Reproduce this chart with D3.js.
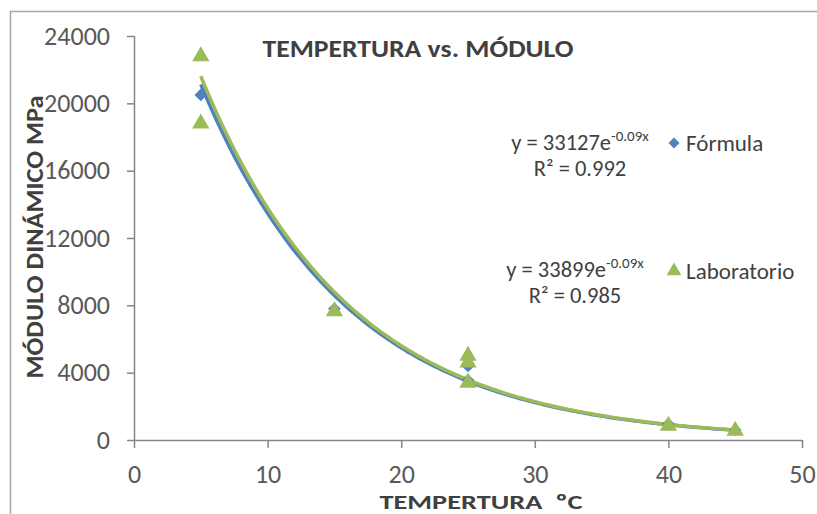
<!DOCTYPE html>
<html>
<head>
<meta charset="utf-8">
<script src="https://cdn.jsdelivr.net/npm/d3@7"></script>
<style>
  body { margin: 0; background: #fff; }
  svg { display: block; font-family: Carlito, Lato, sans-serif; }
</style>
</head>
<body>
<svg id="chart" width="817" height="514"></svg>
<script>
// values
var formulaTemp = [5, 15, 25, 25, 40, 45];
var formulaMod  = [20500, 7800, 4400, 3550, 950, 600];
var labTemp = [5, 5, 15, 25, 25, 25, 40, 45];
var labMod  = [22800, 18800, 7650, 5000, 4600, 3400, 850, 550];

// exponential trend lines as printed on the chart
var formulaFit = { a: 33127, b: -0.09, r2: "0.992" };
var labFit     = { a: 33899, b: -0.09, r2: "0.985" };

var xTicks = [0, 10, 20, 30, 40, 50];
var yTicks = [0, 4000, 8000, 12000, 16000, 20000, 24000];

var blue = "#4f81bd", green = "#9bbb59", axisCol = "#868686", textCol = "#595959";

var svg = d3.select("#chart");

// outer chart border (runs off right/bottom)
svg.append("rect")
    .attr("x", 10.5).attr("y", 11.5)
    .attr("width", 830).attr("height", 530)
    .attr("fill", "none")
    .attr("stroke", "#a6a6a6")
    .attr("stroke-width", 1.5);

var x = d3.scaleLinear().domain([0, 50]).range([134, 802]);
var y = d3.scaleLinear().domain([0, 24000]).range([440, 36]);

// axes
var xAxis = svg.append("g")
    .attr("transform", "translate(0,440)")
    .call(d3.axisBottom(x).tickValues(xTicks).tickFormat(d3.format("d")).tickSize(8).tickPadding(17));
var yAxis = svg.append("g")
    .attr("transform", "translate(134,0)")
    .call(d3.axisLeft(y).tickValues(yTicks).tickFormat(d3.format("d")).tickSize(7).tickPadding(17));

[xAxis, yAxis].forEach(function(g) {
    g.selectAll("path, line").attr("stroke", axisCol).attr("stroke-width", 1.5);
    g.select(".domain").attr("d", g === xAxis ? "M134,0.5H802" : "M0.5,36V440");
    g.selectAll("text")
        .attr("fill", textCol)
        .style("font-size", "26px")
        .style("font-family", "Carlito, Lato, sans-serif");
});

// trend lines
function fitPoints(fit) {
    return d3.range(5, 45.01, 0.25).map(function(t) {
        return [t, fit.a * Math.exp(fit.b * t)];
    });
}
var line = d3.line().x(function(d) { return x(d[0]); }).y(function(d) { return y(d[1]); });

svg.append("path")
    .attr("d", line(fitPoints(formulaFit)))
    .attr("fill", "none").attr("stroke", blue).attr("stroke-width", 3.5);
svg.append("path")
    .attr("d", line(fitPoints(labFit)))
    .attr("fill", "none").attr("stroke", green).attr("stroke-width", 3.5);

// markers (Excel style: square turned 45 degrees, triangle)
var square = d3.symbol().type(d3.symbolSquare).size(80);
var triangle = d3.symbol().type(d3.symbolTriangle).size(130);

svg.append("g").selectAll("path")
    .data(d3.zip(formulaTemp, formulaMod))
    .join("path")
    .attr("d", square)
    .attr("transform", function(d) { return "translate(" + x(d[0]) + "," + y(d[1]) + ") rotate(45)"; })
    .attr("fill", blue);

svg.append("g").selectAll("path")
    .data(d3.zip(labTemp, labMod))
    .join("path")
    .attr("d", triangle)
    .attr("transform", function(d) { return "translate(" + x(d[0]) + "," + y(d[1]) + ")"; })
    .attr("fill", green);

// titles
svg.append("text")
    .attr("x", 418).attr("y", 57)
    .attr("text-anchor", "middle")
    .attr("font-weight", "bold").attr("font-size", 24)
    .attr("fill", "#404040")
    .attr("textLength", 311).attr("lengthAdjust", "spacingAndGlyphs")
    .text("TEMPERTURA vs. MÓDULO");

svg.append("text")
    .attr("transform", "translate(43,237) rotate(-90)")
    .attr("text-anchor", "middle")
    .attr("font-weight", "bold").attr("font-size", 24)
    .attr("fill", "#404040")
    .attr("textLength", 283).attr("lengthAdjust", "spacingAndGlyphs")
    .text("MÓDULO DINÁMICO MPa");

svg.append("text")
    .attr("x", 481).attr("y", 509)
    .attr("text-anchor", "middle")
    .attr("font-weight", "bold").attr("font-size", 21)
    .attr("fill", "#404040")
    .attr("xml:space", "preserve")
    .attr("textLength", 203).attr("lengthAdjust", "spacingAndGlyphs")
    .text("TEMPERTURA  ºC");

// equation labels
function equation(fit, cx, cy) {
    var t = svg.append("text")
        .attr("x", cx).attr("y", cy)
        .attr("text-anchor", "middle")
        .attr("font-size", 22.5).attr("fill", "#404040");
    t.append("tspan").text("y = " + fit.a + "e");
    t.append("tspan").attr("dy", -9).attr("font-size", 15).text(fit.b.toFixed(2) + "x");
    svg.append("text")
        .attr("x", cx).attr("y", cy + 26)
        .attr("text-anchor", "middle")
        .attr("font-size", 22.5).attr("fill", "#404040")
        .text("R² = " + fit.r2);
}
equation(formulaFit, 580, 150);
equation(labFit, 575, 277);

// legend
var legend = [
    { name: "Fórmula", sym: d3.symbol().type(d3.symbolSquare).size(60), rot: 45, color: blue, y: 143 },
    { name: "Laboratorio", sym: d3.symbol().type(d3.symbolTriangle).size(95), rot: 0, color: green, y: 271 }
];
var lg = svg.append("g").selectAll("g").data(legend).join("g")
    .attr("transform", function(d) { return "translate(674," + d.y + ")"; });
lg.append("path")
    .attr("d", function(d) { return d.sym(); })
    .attr("transform", function(d) { return "rotate(" + d.rot + ")"; })
    .attr("fill", function(d) { return d.color; });
lg.append("text")
    .attr("x", 12).attr("y", 8)
    .attr("font-size", 23).attr("fill", "#404040")
    .text(function(d) { return d.name; });
</script>
</body>
</html>
